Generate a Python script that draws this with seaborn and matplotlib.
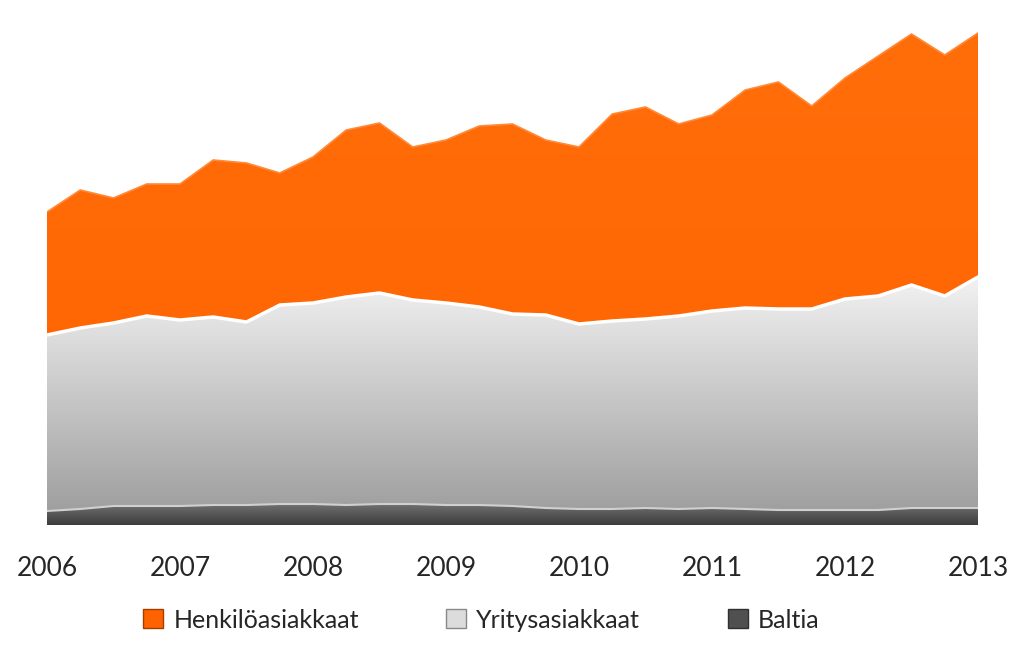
import numpy as np
import pandas as pd
import matplotlib
matplotlib.use("Agg")
import matplotlib.pyplot as plt
import seaborn as sns
from matplotlib.colors import LinearSegmentedColormap

years = ["2006", "2007", "2008", "2009", "2010", "2011", "2012", "2013"]
quarter = list(range(29))
# cumulative tops (units from bottom)
total = [313, 335, 327, 341, 341, 365, 362, 352, 368, 395, 402, 378, 385, 399, 401, 385,
         378, 411, 418, 401, 410, 435, 443, 419, 447, 469, 491, 470, 492]
yritys_top = [190, 197, 202, 209, 205, 208, 203, 220, 222, 228, 232, 225, 222, 218, 211, 210,
              201, 204, 206, 209, 214, 217, 216, 216, 226, 229, 240, 229, 248]
baltia = [14, 16, 19, 19, 19, 20, 20, 21, 21, 20, 21, 21, 20, 20, 19, 17,
          16, 16, 17, 16, 17, 16, 15, 15, 15, 15, 17, 17, 17]

df = pd.DataFrame({"q": quarter, "total": total, "yr": yritys_top, "ba": baltia})

sns.set_theme(style="white")
fig = plt.figure(figsize=(10.24, 6.72), dpi=100)
ax = fig.add_axes([47/1024, 1-525/672, (978-47)/1024, (525-30)/672])
ax.set_xlim(0, 28)
ax.set_ylim(0, 495)

def grad_fill(lo, hi, c_top, c_bot, z):
    poly = ax.fill_between(df["q"], lo, hi, color="none", zorder=z)
    cmap = LinearSegmentedColormap.from_list("g", [c_bot, c_top])
    img = ax.imshow(np.linspace(0, 1, 256).reshape(-1, 1), cmap=cmap, aspect="auto",
                    extent=[0, 28, 0, max(hi)], origin="lower", zorder=z)
    path = poly.get_paths()[0]
    img.set_clip_path(path, transform=ax.transData)

grad_fill(df["yr"], df["total"], "#ff6e0a", "#ff6200", 1)
grad_fill(df["ba"], df["yr"], "#f2f2f2", "#9a9a9a", 1)
grad_fill(np.zeros(29), df["ba"], "#707070", "#3c3c3c", 1)
sns.lineplot(data=df, x="q", y="yr", color="white", lw=2.5, ax=ax, zorder=3)
sns.lineplot(data=df, x="q", y="ba", color="#d0d0d0", lw=1.5, ax=ax, zorder=3)
sns.lineplot(data=df, x="q", y="total", color="#ff8a3a", lw=1.2, ax=ax, zorder=3)

for s in ax.spines.values():
    s.set_visible(False)
ax.set_yticks([])
ax.set_xticks([0, 4, 8, 12, 16, 20, 24, 28])
ax.set_xticklabels(years, fontsize=19, fontname="Lato")
ax.tick_params(axis="x", pad=22, length=0)
ax.set_xlabel("")
ax.set_ylabel("")

from matplotlib.patches import Patch
handles = [Patch(facecolor="#ff6200", edgecolor="#a04000"),
           Patch(facecolor="#dcdcdc", edgecolor="#888888"),
           Patch(facecolor="#505050", edgecolor="#303030")]
fig.legend(handles, ["Henkilöasiakkaat", "Yritysasiakkaat", "Baltia"], loc="center",
           bbox_to_anchor=(0.47, 1-620/672), ncol=3, frameon=False,
           prop={"family": "Lato", "size": 18}, handlelength=0.8, handleheight=0.8,
           columnspacing=3.5, handletextpad=0.4)
fig.savefig("out.png", dpi=100)
